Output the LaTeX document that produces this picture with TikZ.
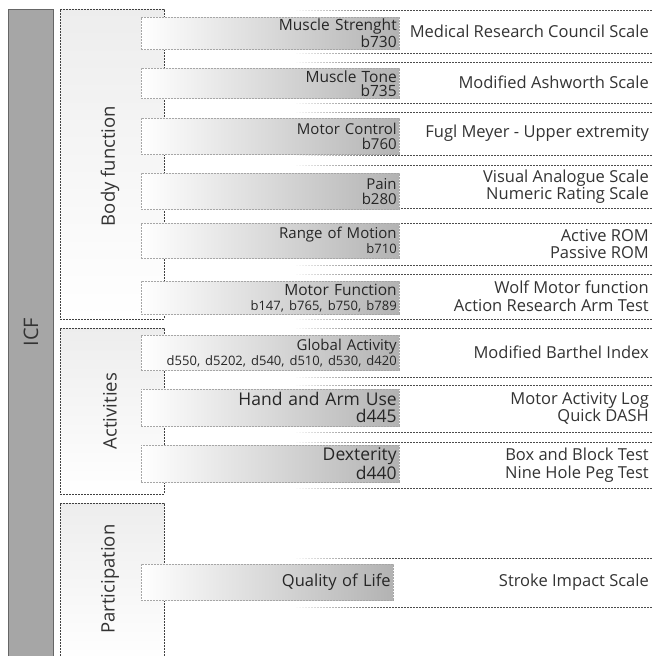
\documentclass[tikz,border=0pt]{standalone}
\usepackage{fontspec}
\setmainfont{Open Sans}
\usetikzlibrary{fadings}

\tikzset{
  icfbar/.style={draw=black!60, line width=1.2pt, fill=black!35, anchor=north west, minimum width=45pt, inner sep=0pt},
  grp/.style={draw=black!75, dash pattern=on 2pt off 1pt, top color=black!7, bottom color=white, anchor=north west, minimum width=104pt, inner sep=0pt},
  grplabel/.style={rotate=90, font=\fontsize{18.5}{20}\selectfont, text=black!80},
  item/.style={draw=black!35, dash pattern=on 2pt off 1pt, left color=white, right color=black!30, anchor=north west, minimum width=258pt, text width=253pt, align=right, inner xsep=2.5pt, inner ysep=0pt, text=black!85},
  measure/.style={anchor=east, align=right, font=\fontsize{16.5}{17.5}\selectfont, text=black!80, inner sep=1pt},
  rule/.style={draw=black!70, dash pattern=on 2pt off 1pt, line width=0.5pt},
}
\newcommand{\codesize}{\fontsize{13}{14}\selectfont}

\begin{document}
\begin{tikzpicture}[x=1pt, y=-1pt]
  \useasboundingbox (0,0) rectangle (652,656);

  % ICF bar
  \node[icfbar, minimum height=652pt] (icf) at (8,9) {};
  \node[rotate=90, font=\fontsize{20}{22}\selectfont, text=black!80] (icflabel) at (31,332) {ICF};

  % groups
  \node[grp, minimum height=310pt] (body) at (60,9) {};
  \node[grp, minimum height=166pt] (act) at (60,328) {};
  \node[grp, minimum height=160pt] (part) at (60,503) {};
  \node[grplabel] (bodylabel) at (110,166) {Body function};
  \node[grplabel] (actlabel) at (110,411) {Activities};
  \node[grplabel] (partlabel) at (110,579) {Participation};

  % row rules, fading in from the left
  \foreach \y in {10,53,62,103,112,155,165,208,223,265,274,319,328,377,385,432,442,488,558,607} {
    \draw[rule] (296,\y) -- (652,\y);
    \fill[white, path fading=east] (294,\y-2) rectangle (392,\y+2);
  }

  % body function items
  \node[item, minimum height=32pt, font=\fontsize{15.5}{14}\selectfont] (strength) at (141,17) {Muscle Strenght\\b730};
  \node[item, minimum height=30pt, font=\fontsize{15.5}{14}\selectfont] (tone) at (141,68) {Muscle Tone\\b735};
  \node[item, minimum height=36pt, font=\fontsize{15}{15}\selectfont] (control) at (141,118) {Motor Control\\b760};
  \node[item, minimum height=36pt, font=\fontsize{15}{15}\selectfont] (pain) at (141,173) {Pain\\b280};
  \node[item, minimum height=35pt, font=\fontsize{15}{15}\selectfont] (rom) at (141,223) {Range of Motion\\{\codesize b710}};
  \node[item, minimum height=33pt, font=\fontsize{15.5}{15}\selectfont] (motorfn) at (141,281) {Motor Function\\{\codesize b147, b765, b750, b789}};

  % activities items
  \node[item, minimum height=35pt, font=\fontsize{15}{15}\selectfont] (global) at (141,335) {Global Activity\\{\codesize d550, d5202, d540, d510, d530, d420}};
  \node[item, minimum height=37pt, font=\fontsize{17.5}{17}\selectfont] (hand) at (141,389) {Hand and Arm Use\\d445};
  \node[item, minimum height=37pt, font=\fontsize{17.5}{17}\selectfont] (dext) at (141,445) {Dexterity\\d440};

  % participation item
  \node[item, minimum width=252pt, text width=247pt, minimum height=36pt, font=\fontsize{16.5}{15}\selectfont] (qol) at (141,564) {Quality of Life};

  % measures
  \node[measure] (mrc) at (650,31.5) {Medical Research Council Scale};
  \node[measure] (mas) at (650,82.5) {Modified Ashworth Scale};
  \node[measure] (fugl) at (650,133.5) {Fugl Meyer - Upper extremity};
  \node[measure] (vas) at (650,186.5) {Visual Analogue Scale\\Numeric Rating Scale};
  \node[measure] (arom) at (650,244) {Active ROM\\Passive ROM};
  \node[measure] (wolf) at (650,296.5) {Wolf Motor function\\Action Research Arm Test};
  \node[measure] (barthel) at (650,352.5) {Modified Barthel Index};
  \node[measure] (mal) at (650,408.5) {Motor Activity Log\\Quick DASH};
  \node[measure] (bbt) at (650,465) {Box and Block Test\\Nine Hole Peg Test};
  \node[measure] (sis) at (650,582.5) {Stroke Impact Scale};
\end{tikzpicture}
\end{document}
